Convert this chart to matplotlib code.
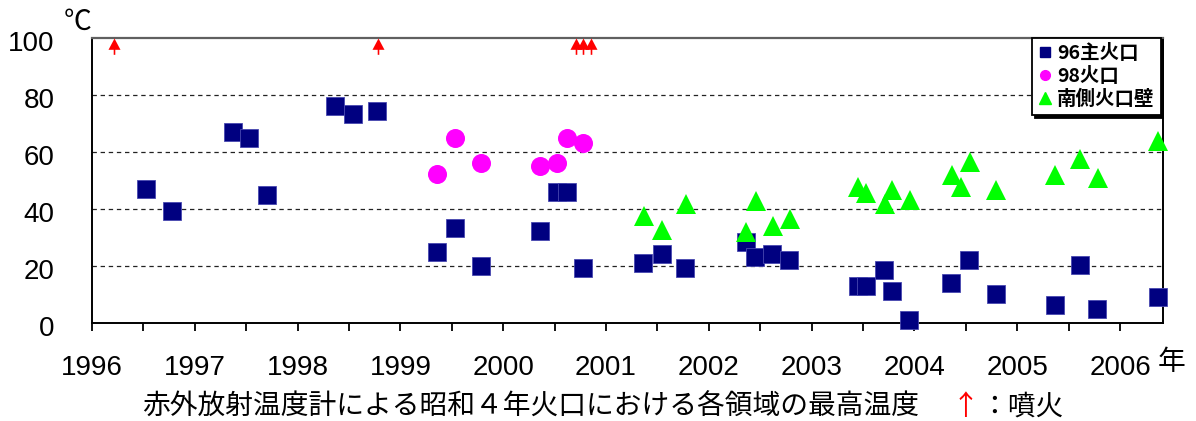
import matplotlib
matplotlib.use("Agg")
import matplotlib.pyplot as plt
import matplotlib.transforms as mtransforms
from matplotlib.path import Path
from matplotlib.lines import Line2D
from matplotlib.font_manager import FontProperties

# --- data (decimal years, degrees C) ---
main_x = [1996.53, 1996.78, 1997.37, 1997.53, 1997.70, 1998.36, 1998.54, 1998.77,
          1999.36, 1999.53, 1999.78, 2000.36, 2000.52, 2000.62, 2000.78,
          2001.36, 2001.54, 2001.77, 2002.36, 2002.45, 2002.61, 2002.78,
          2003.45, 2003.53, 2003.70, 2003.78, 2003.95, 2004.36, 2004.53, 2004.79,
          2005.37, 2005.61, 2005.78, 2006.37]
main_y = [47.0, 39.3, 67.0, 65.0, 45.0, 76.0, 73.2, 74.2,
          25.0, 33.2, 20.2, 32.2, 46.0, 46.0, 19.3,
          21.2, 24.1, 19.3, 28.4, 23.1, 24.1, 22.2,
          13.0, 13.0, 18.5, 11.3, 1.2, 14.1, 22.2, 10.2,
          6.4, 20.3, 5.0, 9.3]

c98_x = [1999.36, 1999.53, 1999.78, 2000.36, 2000.52, 2000.62, 2000.78]
c98_y = [52.2, 65.0, 56.1, 55.0, 56.1, 65.0, 63.2]

wall_x = [2001.37, 2001.54, 2001.78, 2002.36, 2002.46, 2002.62, 2002.79,
          2003.45, 2003.53, 2003.71, 2003.78, 2003.96,
          2004.37, 2004.45, 2004.54, 2004.79,
          2005.37, 2005.61, 2005.79, 2006.37]
wall_y = [37.6, 32.8, 41.9, 31.9, 42.8, 33.9, 36.6,
          47.6, 45.7, 41.9, 46.8, 43.0,
          52.1, 47.7, 56.6, 46.8,
          52.0, 57.7, 51.0, 63.9]

eruptions = [1996.21, 1998.78, 2000.71, 2000.78, 2000.85]

series_labels = ["96主火口", "98火口", "南側火口壁"]
year_ticks = list(range(1996, 2007))
year_labels = [str(y) for y in year_ticks]
y_ticks = [0, 20, 40, 60, 80, 100]

CJK = ["Noto Sans CJK JP", "DejaVu Sans"]
NUM = "Liberation Sans"

W, H = 1196, 421
fig = plt.figure(figsize=(W / 100, H / 100), dpi=100)
x0, x1, y0, y1 = 92, 1162.7, 323.3, 37.7
ax = fig.add_axes([x0 / W, 1 - y0 / H, (x1 - x0) / W, (y0 - y1) / H])
ax.set_xlim(1996, 2006.415)
ax.set_ylim(0, 100)

# dashed horizontal guides
for yv in y_ticks[1:-1]:
    ax.axhline(yv, color="#222222", lw=0.9, ls=(0, (3.5, 3)), zorder=1)

# series
ax.plot(main_x, main_y, ls="none", marker="s", ms=13, mfc="#000080",
        mec="#4848b0", mew=0.6, clip_on=False, zorder=3)
ax.plot(c98_x, c98_y, ls="none", marker="o", ms=13.7, mfc="#ff00ff",
        mec="#ff00ff", mew=0, clip_on=False, zorder=4)
ax.plot(wall_x, wall_y, ls="none", marker="^", ms=14.4, mfc="#00ff00",
        mec="#00ff00", mew=0, clip_on=False, zorder=5)

# eruption arrows along the top edge
arrow_verts = [(0, 0), (-6, -11.3), (-0.8, -11.3), (-0.8, -16.3),
               (0.8, -16.3), (0.8, -11.3), (6, -11.3), (0, 0)]
arrow_codes = [Path.MOVETO] + [Path.LINETO] * 6 + [Path.CLOSEPOLY]
arrow_marker = Path(arrow_verts, arrow_codes)
ax.plot(eruptions, [100] * len(eruptions), ls="none", marker=arrow_marker,
        ms=23.5, mfc="red", mec="red", mew=0, clip_on=False, zorder=6)

# axes styling
for side in ["left", "bottom", "right"]:
    ax.spines[side].set_color("black")
    ax.spines[side].set_linewidth(1.4)
ax.spines["top"].set_color("#606060")
ax.spines["top"].set_linewidth(1.6)

ax.set_xticks(year_ticks)
ax.set_xticklabels(year_labels, fontfamily=NUM, fontsize=20)
ax.set_xticks([y + 0.5 for y in year_ticks[:-1]], minor=True)
ax.tick_params(axis="x", which="both", direction="out", length=6, width=1.3,
               pad=17, color="black")
ax.set_yticks(y_ticks)
ax.set_yticklabels([str(v) for v in y_ticks], fontfamily=NUM, fontsize=20)
ax.tick_params(axis="y", length=0, pad=27)
shift_down = mtransforms.ScaledTranslation(0, -3 / 100, fig.dpi_scale_trans)
for lbl in ax.get_yticklabels():
    lbl.set_transform(lbl.get_transform() + shift_down)

# legend
handles = [
    Line2D([], [], ls="none", marker="s", ms=6.5, mfc="#000080", mec="#000080"),
    Line2D([], [], ls="none", marker="o", ms=7, mfc="#ff00ff", mec="#ff00ff"),
    Line2D([], [], ls="none", marker="^", ms=9, mfc="#00ff00", mec="#00ff00"),
]
leg = ax.legend(handles, series_labels, loc="upper right",
                bbox_to_anchor=(0.998, 1.0), borderaxespad=0,
                prop=FontProperties(family=CJK, weight="bold", size=14),
                handlelength=0.7, handletextpad=0.3, labelspacing=0.22,
                borderpad=0.3, fancybox=False, framealpha=1,
                shadow={"color": "black", "alpha": 1})
leg.get_frame().set_edgecolor("black")
leg.get_frame().set_linewidth(1.3)
leg.set_zorder(10)

# unit and year marks, caption
fig.text(78 / W, 1 - 22 / H, "℃", fontsize=20, family=CJK, ha="center", va="center")
fig.text(1172 / W, 1 - 362 / H, "年", fontsize=20, family=CJK, ha="center", va="center")
cap_y = 1 - 406.7 / H
fig.text(141.7 / W, cap_y, "赤外放射温度計による昭和４年火口における各領域の最高温度",
         fontsize=20, family=CJK, ha="left", va="center")
fig.text(965 / W, cap_y, "↑", fontsize=20, family=CJK, color="red",
         ha="center", va="center")
fig.text(980 / W, cap_y, "：噴火", fontsize=20, family=CJK, ha="left", va="center")

fig.savefig("out.png", dpi=100)
